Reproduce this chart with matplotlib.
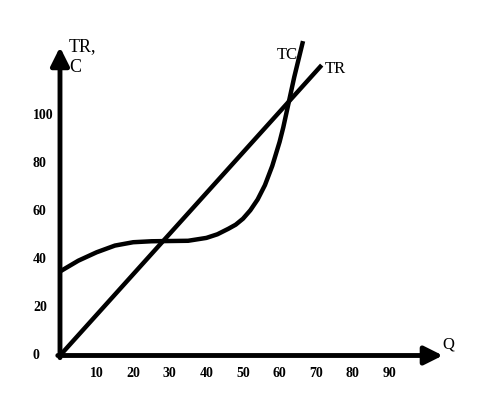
from matplotlib import pyplot as plt

# Figure size in pixels: 479 x 399
plt.rcParams["font.family"] = ["Liberation Serif", "DejaVu Serif"]

# Data
q_ticks = [10, 20, 30, 40, 50, 60, 70, 80, 90]
v_ticks = [0, 20, 40, 60, 80, 100]

# Total revenue (straight line through the origin)
tr_q = [0, 71.5]
tr_v = [0, 121]

# Total cost curve
tc_q = [0, 5, 10, 15, 20, 25, 30, 35, 40, 43, 46, 48, 50, 52, 54, 56, 57, 58, 59, 60,
        61, 62, 63, 64, 66.4]
tc_v = [35, 39.5, 43, 45.8, 47.2, 47.6, 47.7, 47.8, 49, 50.5, 52.8, 54.5, 57, 60.5, 65,
        71, 75, 79, 84, 89, 95, 102, 109, 116, 131]

fig = plt.figure(figsize=(4.79, 3.99), dpi=100)
ax = fig.add_axes([0, 0, 1, 1])
ax.set_xlim(-16.39, 114.48)
ax.set_ylim(-18.125, 148.125)
ax.axis("off")

# Axes drawn as arrows
arrow = dict(arrowstyle="-|>,head_length=1.1,head_width=0.55", lw=3.5,
             color="black", shrinkA=0, shrinkB=0, mutation_scale=10)
ax.annotate("", xy=(104.6, 0), xytext=(-0.6, 0), arrowprops=arrow)
ax.annotate("", xy=(0, 128.5), xytext=(0, -0.9), arrowprops=arrow)

# Curves
ax.plot(tr_q, tr_v, color="black", lw=3.2, solid_capstyle="butt")
ax.plot(tc_q, tc_v, color="black", lw=3.2, solid_capstyle="butt",
        solid_joinstyle="round")

# Tick labels
for q in q_ticks:
    ax.text(q, -7.5, str(q), ha="center", va="center", fontsize=10, fontweight="bold")
for v in v_ticks:
    ax.text(-7.38, v, str(v), ha="left", va="center", fontsize=10, fontweight="bold")

# Axis and curve labels
ax.text(2.46, 118.1, "TR,\nC", ha="left", va="baseline", fontsize=13, linespacing=1.3)
ax.text(59.3, 123.5, "TC", ha="left", va="baseline", fontsize=12)
ax.text(72.4, 117.7, "TR", ha="left", va="baseline", fontsize=12)
ax.text(104.4, 3.1, "Q", ha="left", va="baseline", fontsize=12)

fig.savefig("out.png", dpi=100)
